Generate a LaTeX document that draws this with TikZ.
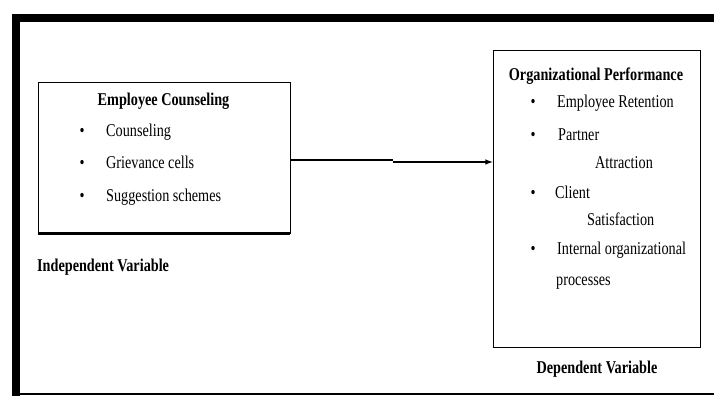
\documentclass[tikz,border=0pt]{standalone}
\usepackage{fontspec}
\setmainfont{Liberation Serif}[FakeStretch=0.79]
\usetikzlibrary{positioning}

\begin{document}
\begin{tikzpicture}[x=1pt, y=-1pt, node distance = 0mm,
  box/.style args = {#1,#2}{draw, line width=0.8pt, minimum width=#1, minimum height=#2, inner sep=0pt},
  item/.style = {anchor=base west, inner sep=0pt, font=\fontsize{18}{21}\selectfont},
  head/.style = {anchor=base, inner sep=0pt, font=\fontsize{18}{21}\selectfont\bfseries},
  bul/.style = {anchor=base, inner sep=0pt, font=\fontsize{18}{21}\selectfont}]
\useasboundingbox (0,0) rectangle (714,396);
% frame
\draw[line width=8pt] (12,18) -- (714,18);
\draw[line width=8pt] (16,14) -- (16,396);
\draw[line width=1.5pt] (20,394) -- (714,394);
% boxes
\node (ec) [box={252pt,151pt}] at (164,157.5) {};
\node (op) [box={207pt,297pt}] at (596.5,198.5) {};
\draw[line width=2.2pt] (ec.south west) -- (ec.south east);
\draw[line width=1.8pt] (op.south west) -- (op.south east);
% left list
\node (ecT) [head] at (163.5,105) {Employee Counseling};
\node (cns) [item] at (106,136) {Counseling};
\node (grv) [item] at (106,168) {Grievance cells};
\node (sug) [item] at (106,201) {Suggestion schemes};
\node [bul] at (82,136) {\textbullet};
\node [bul] at (82,168) {\textbullet};
\node [bul] at (82,201) {\textbullet};
\node (ivar) [head, anchor=base west] at (37,271) {Independent Variable};
% right list
\node (opT) [head] at (596,80) {Organizational Performance};
\node (ret) [item] at (557,107) {Employee Retention};
\node (prt) [item] at (558,140) {Partner};
\node (att) [item] at (595,168) {Attraction};
\node (cli) [item] at (555,198) {Client};
\node (sat) [item] at (587,225) {Satisfaction};
\node (iop) [item] at (557,254) {Internal organizational};
\node (prc) [item] at (556,285) {processes};
\node [bul] at (533,107) {\textbullet};
\node [bul] at (533,140) {\textbullet};
\node [bul] at (533,198) {\textbullet};
\node [bul] at (533,254) {\textbullet};
\node (dvar) [head] at (597,373) {Dependent Variable};
% arrow
\coordinate (mid) at ([yshift=-2.5pt]ec.east);
\coordinate (stp) at ([xshift=103pt]mid);
\coordinate (stq) at ([yshift=-2pt]stp);
\draw[line width=1.5pt] (mid) -- (stp);
\draw[line width=1.5pt, -latex] (stq) -- (op.west |- stq);
\end{tikzpicture}
\end{document}
